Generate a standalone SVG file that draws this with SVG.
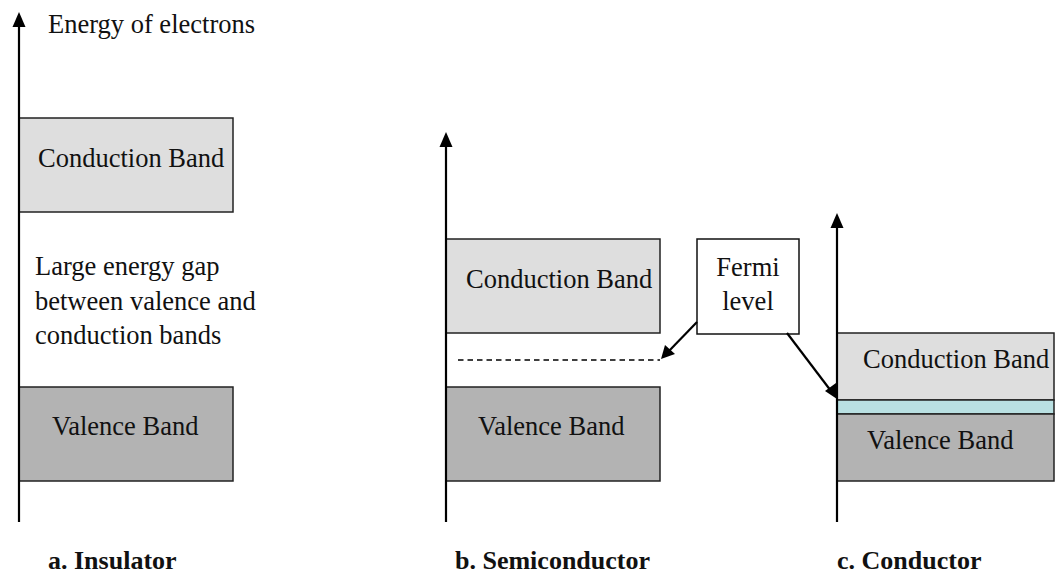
<svg xmlns="http://www.w3.org/2000/svg" width="1055" height="575" viewBox="0 0 1055 575">
<defs>
<style>
text{font-family:'Liberation Serif','DejaVu Serif',serif}
.t{font-size:26.5px;fill:#111}
.b{font-size:26px;font-weight:bold;fill:#111}
.axis{stroke:#000;stroke-width:2.2;fill:none}
.cb{fill:#dedede;stroke:#222;stroke-width:1.5}
.vb{fill:#b3b3b3;stroke:#222;stroke-width:1.5}
.fl{fill:#b9e0e2;stroke:#222;stroke-width:1.5}
.box{fill:#fff;stroke:#111;stroke-width:1.5}
.arr{stroke:#000;stroke-width:2.2;fill:none}
</style>
</defs>

<g id="insulator" font-family="Liberation Serif, serif">
<rect class="cb" x="19" y="118" width="214" height="94"/>
<rect class="vb" x="19" y="387" width="214" height="94"/>
<text class="t" x="38" y="167">Conduction Band</text>
<text class="t" x="52" y="435">Valence Band</text>
<text class="t" x="35" y="275">Large energy gap</text>
<text class="t" x="35" y="310">between valence and</text>
<text class="t" x="35" y="344">conduction bands</text>
<text class="t" x="48" y="33">Energy of electrons</text>
<text class="b" x="48" y="569">a. Insulator</text>
</g>

<g id="semiconductor" font-family="Liberation Serif, serif">
<rect class="cb" x="446" y="239" width="214" height="94"/>
<rect class="vb" x="446" y="387" width="214" height="94"/>
<text class="t" x="466" y="288">Conduction Band</text>
<text class="t" x="478" y="435">Valence Band</text>
<line x1="458" y1="360" x2="660" y2="360" stroke="#000" stroke-width="1.6" stroke-dasharray="5.5,4"/>
<text class="b" x="455" y="569">b. Semiconductor</text>
</g>

<g id="fermi" font-family="Liberation Serif, serif">
<rect class="box" x="697" y="239" width="102" height="95"/>
<text class="t" x="748" y="276" text-anchor="middle">Fermi</text>
<text class="t" x="748" y="310" text-anchor="middle">level</text>
</g>

<g id="conductor" font-family="Liberation Serif, serif">
<rect class="cb" x="837" y="333" width="217" height="67"/>
<rect class="fl" x="837" y="400" width="217" height="14"/>
<rect class="vb" x="837" y="414" width="217" height="67"/>
<text class="t" x="863" y="368">Conduction Band</text>
<text class="t" x="867" y="449">Valence Band</text>
<text class="b" x="837" y="569">c. Conductor</text>
</g>

<g id="connectors">
<line class="axis" x1="19" y1="522" x2="19" y2="26"/>
<path d="M19,12 L12.5,27 L25.5,27 z" fill="#000"/>
<line class="axis" x1="446" y1="522" x2="446" y2="146"/>
<path d="M446,132 L439.5,147 L452.5,147 z" fill="#000"/>
<line class="axis" x1="837" y1="522" x2="837" y2="227"/>
<path d="M837,213 L830.5,228 L843.5,228 z" fill="#000"/>
<line class="arr" x1="697" y1="322" x2="668" y2="352"/>
<path d="M661,359 L665,345 L675,354 z" fill="#000"/>
<line class="arr" x1="787" y1="333" x2="831" y2="391"/>
<path d="M837,399 L825,391 L836,383 z" fill="#000"/>
</g>
</svg>
